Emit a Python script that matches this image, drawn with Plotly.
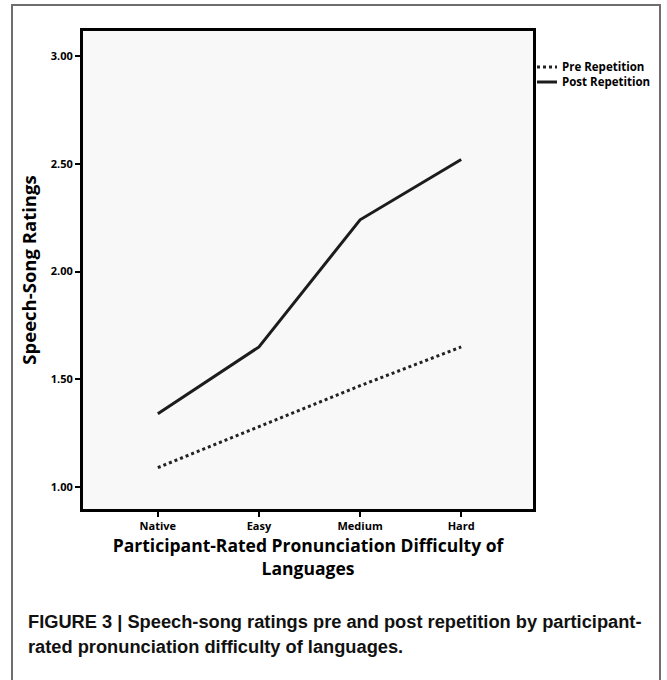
import plotly.graph_objects as go

categories = ["Native", "Easy", "Medium", "Hard"]
pre_repetition = [1.09, 1.28, 1.47, 1.65]
post_repetition = [1.34, 1.65, 2.24, 2.52]
series_names = ["Pre Repetition", "Post Repetition"]
y_ticks = [1.0, 1.5, 2.0, 2.5, 3.0]
y_tick_labels = ["1.00", "1.50", "2.00", "2.50", "3.00"]

W, H = 667, 680
L, R, T, B = 83, 134, 31, 171
PW, PH = W - L - R, H - T - B

def px(x):
    return (x - L) / PW

def py(y):
    return (H - B - y) / PH

styles = [dict(color="#222222", width=3, dash="dot"), dict(color="#1c1c1c", width=3, dash="solid")]

fig = go.Figure()
for name, vals, st in zip(series_names, [pre_repetition, post_repetition], styles):
    fig.add_trace(go.Scatter(x=categories, y=vals, mode="lines", name=name, line=st,
                             showlegend=False))

fig.update_layout(
    width=W, height=H,
    margin=dict(l=L, r=R, t=T, b=B, autoexpand=False),
    paper_bgcolor="white",
    plot_bgcolor="#f8f8f8",
    showlegend=False,
    xaxis=dict(range=[-0.74, 3.71], showline=True, linecolor="black", linewidth=3, mirror=True,
               automargin=False,
               ticks="outside", ticklen=5, tickwidth=2, tickcolor="black", showgrid=False,
               tickfont=dict(family="Open Sans", size=11, color="black", weight="bold"),
               title=dict(text="Participant-Rated Pronunciation Difficulty of<br>Languages",
                          font=dict(family="Open Sans", size=17.5, color="black", weight="bold"),
                          standoff=6)),
    yaxis=dict(range=[0.898, 3.116], showline=True, linecolor="black", linewidth=3, mirror=True,
               automargin=False,
               ticks="outside", ticklen=5, tickwidth=2, tickcolor="black", showgrid=False,
               zeroline=False,
               tickvals=y_ticks, ticktext=y_tick_labels,
               tickfont=dict(family="Open Sans", size=11, color="black", weight="bold"),
               title=dict(text="Speech-Song Ratings",
                          font=dict(family="Open Sans", size=18.5, color="black", weight="bold"),
                          standoff=10)),
)

# outer figure frame
fig.add_shape(type="rect", xref="paper", yref="paper",
              x0=px(12), x1=px(660), y0=py(700), y1=py(5),
              line=dict(color="#6e6e6e", width=2), fillcolor="rgba(0,0,0,0)", layer="below")

# legend (manual, to match compact sample length)
legend_rows = [67, 82]
for name, st, ry in zip(series_names, styles, legend_rows):
    fig.add_shape(type="line", xref="paper", yref="paper",
                  x0=px(537), x1=px(557), y0=py(ry), y1=py(ry),
                  line=dict(color=st["color"], width=st["width"], dash=st["dash"]))
    fig.add_annotation(xref="paper", yref="paper", x=px(560), y=py(ry), xanchor="left",
                       yanchor="middle", showarrow=False, text=name,
                       font=dict(family="Open Sans", size=11.5, color="black", weight="bold"))

cap_font = dict(family="Liberation Sans Narrow, Arial Narrow, Liberation Sans", size=18.25,
                color="#111111", weight="bold")
fig.add_annotation(xref="paper", yref="paper", x=px(26), y=py(621), xanchor="left", yanchor="middle",
                   showarrow=False, align="left",
                   text="FIGURE 3 | Speech-song ratings pre and post repetition by participant-",
                   font=cap_font)
fig.add_annotation(xref="paper", yref="paper", x=px(26), y=py(646), xanchor="left", yanchor="middle",
                   showarrow=False, align="left",
                   text="rated pronunciation difficulty of languages.",
                   font=cap_font)

fig.write_html("out.html", config={"displayModeBar": False},
               post_script="document.body.style.margin='0';document.body.style.overflow='hidden';")
